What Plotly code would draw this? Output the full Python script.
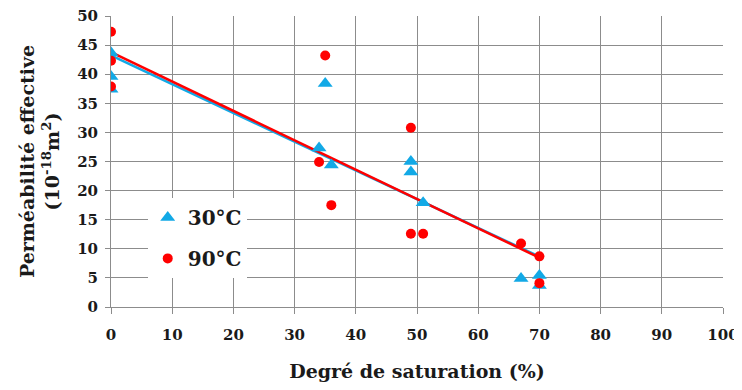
import numpy as np
import plotly.graph_objects as go

# Degré de saturation (%) et perméabilité effective (1e-18 m2)
sat_30 = [0, 0, 0, 34, 35, 36, 49, 49, 51, 67, 70, 70]
perm_30 = [43.7, 39.6, 37.4, 27.3, 38.4, 24.4, 25.0, 23.2, 17.9, 4.9, 5.4, 3.7]

sat_90 = [0, 0, 0, 34, 35, 36, 49, 49, 51, 67, 70, 70]
perm_90 = [47.3, 42.3, 37.9, 24.9, 43.2, 17.5, 30.8, 12.6, 12.6, 10.9, 8.7, 4.1]

x_ticks = list(range(0, 101, 10))
y_ticks = list(range(0, 51, 5))

blue = "#12A9E6"
red = "#FF0000"
grid = "#8c8c8c"
font = "DejaVu Serif"


def trend(x, y):
    a, b = np.polyfit(x, y, 1)
    xs = [min(x), max(x)]
    return xs, [a * v + b for v in xs]


fig = go.Figure()

tx, ty = trend(sat_30, perm_30)
fig.add_trace(go.Scatter(x=tx, y=ty, mode="lines", line=dict(color=blue, width=2.5),
                         showlegend=False, hoverinfo="skip"))
tx, ty = trend(sat_90, perm_90)
fig.add_trace(go.Scatter(x=tx, y=ty, mode="lines", line=dict(color=red, width=2.5),
                         showlegend=False, hoverinfo="skip"))

fig.add_trace(go.Scatter(x=sat_30, y=perm_30, mode="markers", name="30°C", legendgroup="a",
                         marker=dict(symbol="triangle-up", size=13, color=blue)))
fig.add_trace(go.Scatter(x=sat_90, y=perm_90, mode="markers", name="90°C", legendgroup="b",
                         marker=dict(symbol="circle", size=10, color=red)))

# page body has an 8px margin, so the figure is a bit smaller than the window
fig.update_layout(
    width=734, height=374,
    margin=dict(l=103, r=19, t=8, b=75),
    paper_bgcolor="white", plot_bgcolor="white",
    font=dict(family=font, size=14, color="#1a1a1a", weight="bold"),
    legend=dict(x=0.06, y=0.375, xanchor="left", yanchor="top",
                bgcolor="white", font=dict(size=20, family=font, weight="bold"),
                traceorder="grouped", tracegroupgap=12, itemwidth=30),
    xaxis=dict(range=[0, 100], tickvals=x_ticks, showgrid=True, gridcolor=grid,
               gridwidth=1, zeroline=False, showline=True, linecolor=grid,
               ticks="outside", ticklen=6, tickcolor=grid, automargin=False,
               ticklabelstandoff=8, ticklabeloverflow="allow",
               tickfont=dict(size=15, family=font, weight="bold"),
               title=dict(text="Degré de saturation (%)",
                          font=dict(size=19, weight="bold"), standoff=21)),
    yaxis=dict(range=[0, 50], tickvals=y_ticks, showgrid=True, gridcolor=grid,
               gridwidth=1, zeroline=False, showline=True, linecolor=grid,
               ticks="outside", ticklen=5, tickcolor=grid, automargin=False,
               ticklabelstandoff=4, ticklabeloverflow="allow",
               tickfont=dict(size=15, family=font, weight="bold"),
               title=dict(text="Perméabilité effective<br>(10<sup>-18</sup>m<sup>2</sup>)",
                          font=dict(size=19, weight="bold"), standoff=12)),
)

fig.write_html("out.html")
